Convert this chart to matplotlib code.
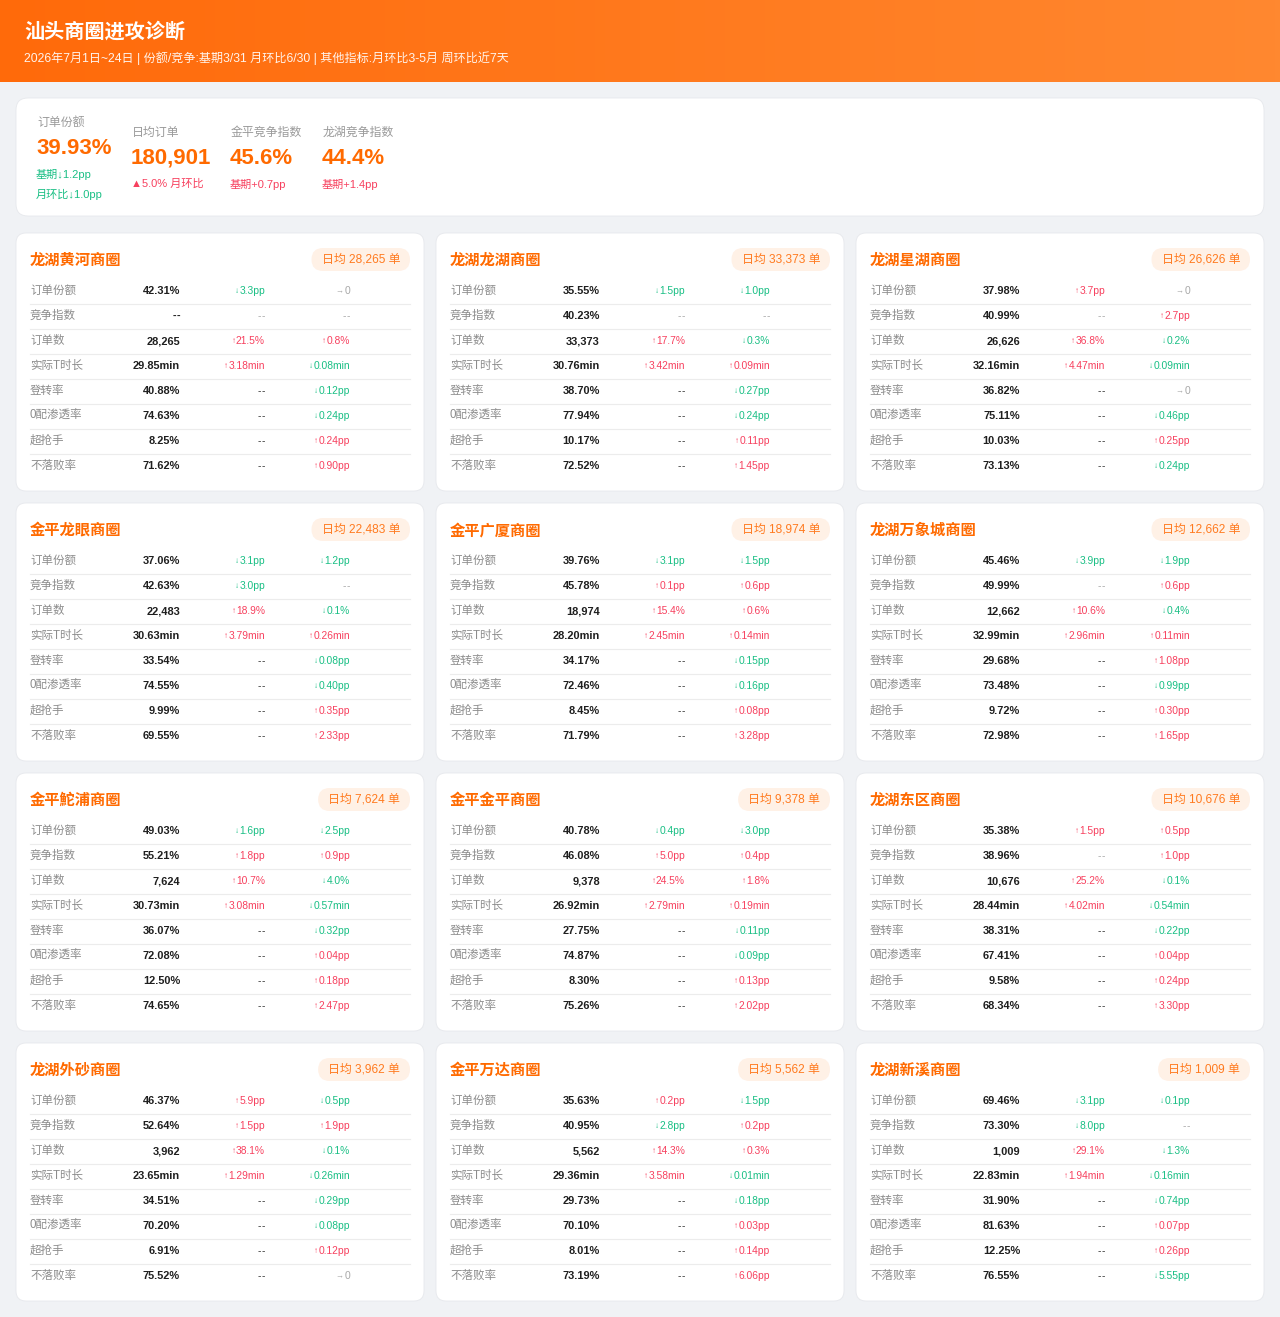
import matplotlib
matplotlib.use('Agg')
import matplotlib.pyplot as plt
from matplotlib.patches import FancyBboxPatch
from matplotlib.colors import LinearSegmentedColormap
import numpy as np

# ---------------- data ----------------
title = "汕头商圈进攻诊断"
subtitle = "2026年7月1日~24日 | 份额/竞争:基期3/31 月环比6/30 | 其他指标:月环比3-5月 周环比近7天"

kpi_labels = ["订单份额", "日均订单", "金平竞争指数", "龙湖竞争指数"]
kpi_values = ["39.93%", "180,901", "45.6%", "44.4%"]
kpi_subs = [["基期↓1.2pp", "月环比↓1.0pp"], ["▲5.0% 月环比"], ["基期+0.7pp"], ["基期+1.4pp"]]
kpi_sub_colors = ["green", "red", "red", "red"]

row_labels = ["订单份额", "竞争指数", "订单数", "实际T时长", "登转率", "0配渗透率", "超抢手", "不落败率"]

zone_names = ["龙湖黄河商圈", "龙湖龙湖商圈", "龙湖星湖商圈",
              "金平龙眼商圈", "金平广厦商圈", "龙湖万象城商圈",
              "金平鮀浦商圈", "金平金平商圈", "龙湖东区商圈",
              "龙湖外砂商圈", "金平万达商圈", "龙湖新溪商圈"]
zone_daily = ["28,265", "33,373", "26,626", "22,483", "18,974", "12,662",
              "7,624", "9,378", "10,676", "3,962", "5,562", "1,009"]

zone_values = [
    ["42.31%", "--", "28,265", "29.85min", "40.88%", "74.63%", "8.25%", "71.62%"],
    ["35.55%", "40.23%", "33,373", "30.76min", "38.70%", "77.94%", "10.17%", "72.52%"],
    ["37.98%", "40.99%", "26,626", "32.16min", "36.82%", "75.11%", "10.03%", "73.13%"],
    ["37.06%", "42.63%", "22,483", "30.63min", "33.54%", "74.55%", "9.99%", "69.55%"],
    ["39.76%", "45.78%", "18,974", "28.20min", "34.17%", "72.46%", "8.45%", "71.79%"],
    ["45.46%", "49.99%", "12,662", "32.99min", "29.68%", "73.48%", "9.72%", "72.98%"],
    ["49.03%", "55.21%", "7,624", "30.73min", "36.07%", "72.08%", "12.50%", "74.65%"],
    ["40.78%", "46.08%", "9,378", "26.92min", "27.75%", "74.87%", "8.30%", "75.26%"],
    ["35.38%", "38.96%", "10,676", "28.44min", "38.31%", "67.41%", "9.58%", "68.34%"],
    ["46.37%", "52.64%", "3,962", "23.65min", "34.51%", "70.20%", "6.91%", "75.52%"],
    ["35.63%", "40.95%", "5,562", "29.36min", "29.73%", "70.10%", "8.01%", "73.19%"],
    ["69.46%", "73.30%", "1,009", "22.83min", "31.90%", "81.63%", "12.25%", "76.55%"],
]
zone_base = [
    ["↓3.3pp", "--", "↑21.5%", "↑3.18min", "--", "--", "--", "--"],
    ["↓1.5pp", "--", "↑17.7%", "↑3.42min", "--", "--", "--", "--"],
    ["↑3.7pp", "--", "↑36.8%", "↑4.47min", "--", "--", "--", "--"],
    ["↓3.1pp", "↓3.0pp", "↑18.9%", "↑3.79min", "--", "--", "--", "--"],
    ["↓3.1pp", "↑0.1pp", "↑15.4%", "↑2.45min", "--", "--", "--", "--"],
    ["↓3.9pp", "--", "↑10.6%", "↑2.96min", "--", "--", "--", "--"],
    ["↓1.6pp", "↑1.8pp", "↑10.7%", "↑3.08min", "--", "--", "--", "--"],
    ["↓0.4pp", "↑5.0pp", "↑24.5%", "↑2.79min", "--", "--", "--", "--"],
    ["↑1.5pp", "--", "↑25.2%", "↑4.02min", "--", "--", "--", "--"],
    ["↑5.9pp", "↑1.5pp", "↑38.1%", "↑1.29min", "--", "--", "--", "--"],
    ["↑0.2pp", "↓2.8pp", "↑14.3%", "↑3.58min", "--", "--", "--", "--"],
    ["↓3.1pp", "↓8.0pp", "↑29.1%", "↑1.94min", "--", "--", "--", "--"],
]
zone_mom = [
    ["→0", "--", "↑0.8%", "↓0.08min", "↓0.12pp", "↓0.24pp", "↑0.24pp", "↑0.90pp"],
    ["↓1.0pp", "--", "↓0.3%", "↑0.09min", "↓0.27pp", "↓0.24pp", "↑0.11pp", "↑1.45pp"],
    ["→0", "↑2.7pp", "↓0.2%", "↓0.09min", "→0", "↓0.46pp", "↑0.25pp", "↓0.24pp"],
    ["↓1.2pp", "--", "↓0.1%", "↑0.26min", "↓0.08pp", "↓0.40pp", "↑0.35pp", "↑2.33pp"],
    ["↓1.5pp", "↑0.6pp", "↑0.6%", "↑0.14min", "↓0.15pp", "↓0.16pp", "↑0.08pp", "↑3.28pp"],
    ["↓1.9pp", "↑0.6pp", "↓0.4%", "↑0.11min", "↑1.08pp", "↓0.99pp", "↑0.30pp", "↑1.65pp"],
    ["↓2.5pp", "↑0.9pp", "↓4.0%", "↓0.57min", "↓0.32pp", "↑0.04pp", "↑0.18pp", "↑2.47pp"],
    ["↓3.0pp", "↑0.4pp", "↑1.8%", "↑0.19min", "↓0.11pp", "↓0.09pp", "↑0.13pp", "↑2.02pp"],
    ["↑0.5pp", "↑1.0pp", "↓0.1%", "↓0.54min", "↓0.22pp", "↑0.04pp", "↑0.24pp", "↑3.30pp"],
    ["↓0.5pp", "↑1.9pp", "↓0.1%", "↓0.26min", "↓0.29pp", "↓0.08pp", "↑0.12pp", "→0"],
    ["↓1.5pp", "↑0.2pp", "↑0.3%", "↓0.01min", "↓0.18pp", "↑0.03pp", "↑0.14pp", "↑6.06pp"],
    ["↓0.1pp", "--", "↓1.3%", "↓0.16min", "↓0.74pp", "↑0.07pp", "↑0.26pp", "↓5.55pp"],
]

# ---------------- style ----------------
W, H = 1280, 1317
BG = "#f0f2f5"
ORANGE = "#ff6a00"
PILL_TXT = "#ff7a1f"
PILL_BG = "#fff1e6"
RED = "#f7405e"
GREEN = "#19bf84"
GRAY = "#a8a8a8"
LABEL = "#8c8c8c"
DARK = "#1f1f1f"
FAM = ["Liberation Sans", "Noto Sans CJK SC", "DejaVu Sans"]
CJK = ["Noto Sans CJK SC", "DejaVu Sans"]

fig = plt.figure(figsize=(W / 100, H / 100), dpi=100)
fig.patch.set_facecolor(BG)
ax = fig.add_axes([0, 0, 1, 1])
renderer = fig.canvas.get_renderer()


def txt(x, y, s, size, color, weight="normal", ha="left", va="center", fam=FAM, alpha=1.0):
    return ax.text(x, y, s, fontsize=size, color=color, fontweight=weight, ha=ha, va=va,
                   family=fam, alpha=alpha, zorder=5)


def width_px(t):
    return t.get_window_extent(renderer=renderer).width


def rbox(x, y, w, h, r, fc, ec="none", lw=0, z=1):
    p = FancyBboxPatch((x, y), w, h, boxstyle=f"round,pad=0,rounding_size={r}",
                       fc=fc, ec=ec, lw=lw, zorder=z)
    ax.add_patch(p)
    return p


def dash(xr, y, size, color, weight="normal"):
    # two separate hyphens, like the reference "--"
    txt(xr, y, "-", size, color, weight=weight, ha="right")
    txt(xr - size * 0.52, y, "-", size, color, weight=weight, ha="right")


# ---------------- header ----------------
grad = np.linspace(0, 1, 256)[None, :]
cmap = LinearSegmentedColormap.from_list("hdr", ["#ff6a0a", "#ff8830"])
ax.imshow(grad, extent=[0, W, 82, 0], cmap=cmap, aspect="auto", zorder=0)
ax.set_xlim(0, W)
ax.set_ylim(H, 0)
ax.axis("off")
txt(24, 31, title, 14.5, "white", weight="bold", fam=CJK)
txt(24, 58, subtitle, 8.7, "white", fam=FAM, alpha=0.92)

# ---------------- KPI card ----------------
rbox(16, 98, 1248, 118, 12, "white", ec="#e6e8ec", lw=0.6)
kpi_x = [36, 131, 230, 322]
for i in range(4):
    x = kpi_x[i]
    nsub = len(kpi_subs[i])
    top = 123 if nsub == 2 else 133
    txt(x + 1, top, kpi_labels[i], 8.6, "#9a9a9a")
    txt(x, top + 25, kpi_values[i], 16.0, ORANGE, weight="bold")
    col = GREEN if kpi_sub_colors[i] == "green" else RED
    for j, s in enumerate(kpi_subs[i]):
        txt(x, top + 51 + 20 * j, s, 8, col)

# ---------------- zone cards ----------------
card_x = [16, 436, 856]
card_y = [233, 503, 773, 1043]
CW, CH = 408, 258


def change_color(s, row):
    if s.startswith("↑"):
        return RED
    if s.startswith("↓"):
        return GREEN
    if s.startswith("→"):
        return GRAY
    return GRAY if row < 4 else "#333333"


def draw_change(xr, y, s, row):
    col = change_color(s, row)
    if s[0] in "↑↓→":
        t = txt(xr, y, s[1:], 7.4, col, ha="right")
        w = width_px(t)
        txt(xr - w - 0.5, y + 0.5, s[0], 5.8, col, ha="right")
    elif s == "--":
        dash(xr, y, 7.4, col)
    else:
        txt(xr, y, s, 7.4, col, ha="right")


for k in range(len(zone_names)):
    x0 = card_x[k % 3]
    y0 = card_y[k // 3]
    rbox(x0, y0, CW, CH, 10, "white", ec="#e6e8ec", lw=0.6)
    txt(x0 + 14, y0 + 27, zone_names[k], 11.0, ORANGE, weight="bold", fam=CJK)
    pt = txt(x0 + 384, y0 + 26.5, f"日均 {zone_daily[k]} 单", 8.6, PILL_TXT, ha="right")
    pw = width_px(pt)
    rbox(x0 + 384 - pw - 10, y0 + 15, pw + 20, 23, 11.5, PILL_BG, z=2)
    for r in range(len(row_labels)):
        yc = y0 + 58 + 25 * r
        txt(x0 + 14, yc, row_labels[r], 8.3, LABEL)
        v = zone_values[k][r]
        if v == "--":
            dash(x0 + 164, yc, 7.9, DARK, weight="bold")
        else:
            txt(x0 + 164, yc, v, 7.9, DARK, weight="bold", ha="right")
        draw_change(x0 + 249, yc, zone_base[k][r], r)
        draw_change(x0 + 334, yc, zone_mom[k][r], r)
        if r < len(row_labels) - 1:
            ax.plot([x0 + 14, x0 + 394], [yc + 12.5, yc + 12.5], color="#ececec", lw=0.8, zorder=3)

fig.savefig("out.png", dpi=100, facecolor=BG)
